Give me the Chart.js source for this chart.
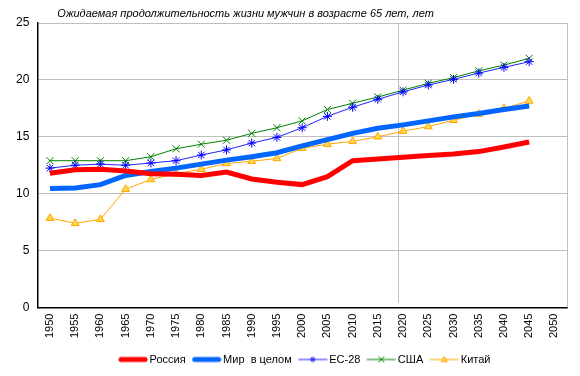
<!DOCTYPE html>
<html><head><meta charset="utf-8">
<script src="https://cdn.jsdelivr.net/npm/chart.js@4/dist/chart.umd.min.js"></script>
<style>html,body{margin:0;padding:0;background:#fff}#c{display:block}</style>
</head><body>
<canvas id="c" width="580" height="376"></canvas>
<script>
const titleText = "Ожидаемая продолжительность жизни мужчин в возрасте 65 лет, лет";
const years = ["1950","1955","1960","1965","1970","1975","1980","1985","1990","1995","2000","2005","2010","2015","2020","2025","2030","2035","2040","2045","2050"];
const russia = [11.8,12.1,12.15,12.0,11.75,11.7,11.6,11.9,11.3,11.0,10.8,11.5,12.9,13.05,13.2,13.35,13.5,13.7,14.1,14.55,null];
const world  = [10.45,10.5,10.8,11.6,11.95,12.25,12.6,12.95,13.25,13.6,14.2,14.75,15.3,15.75,16.05,16.4,16.75,17.05,17.4,17.7,null];
const eu28   = [12.25,12.5,12.6,12.5,12.7,12.9,13.4,13.85,14.45,14.95,15.8,16.8,17.6,18.3,18.95,19.55,20.05,20.6,21.1,21.6,null];
const usa    = [12.9,12.9,12.9,12.9,13.25,13.95,14.35,14.7,15.3,15.8,16.4,17.4,17.95,18.5,19.1,19.7,20.2,20.8,21.3,21.9,null];
const china  = [7.85,7.4,7.75,10.4,11.25,11.75,12.15,12.65,12.85,13.1,14.0,14.35,14.6,15.0,15.5,15.9,16.45,17.0,17.5,18.15,null];
const yTicksMax = 25, yStep = 5;
const markerYearIndex = 13.8; // vertical reference line (~2019)

function legendImg(color, width, style, fill) {
  const c = document.createElement('canvas');
  c.width = 30; c.height = 12;
  const g = c.getContext('2d');
  if (!color) return c;
  g.strokeStyle = color; g.lineWidth = width; g.lineCap = width > 2 ? 'round' : 'butt';
  g.beginPath(); g.moveTo(width > 2 ? 3 : 0.5, 6); g.lineTo(width > 2 ? 27 : 29.5, 6); g.stroke();
  if (style) {
    g.lineWidth = 1;
    const x = 15, y = 6, r = 3;
    g.beginPath();
    if (style === 'star') {
      g.moveTo(x - r, y); g.lineTo(x + r, y); g.moveTo(x, y - r); g.lineTo(x, y + r);
      g.moveTo(x - r*0.7, y - r*0.7); g.lineTo(x + r*0.7, y + r*0.7);
      g.moveTo(x - r*0.7, y + r*0.7); g.lineTo(x + r*0.7, y - r*0.7);
      g.stroke();
    } else if (style === 'x') {
      g.moveTo(x - r, y - r); g.lineTo(x + r, y + r); g.moveTo(x - r, y + r); g.lineTo(x + r, y - r);
      g.stroke();
    } else if (style === 'tri') {
      g.moveTo(x, y - r); g.lineTo(x + r, y + r*0.7); g.lineTo(x - r, y + r*0.7); g.closePath();
      g.fillStyle = fill; g.fill(); g.stroke();
    }
  }
  return c;
}

const extras = {
  id: 'extras',
  beforeDatasetsDraw(chart) {
    const {ctx, chartArea: a, scales: {x}} = chart;
    ctx.save();
    ctx.strokeStyle = '#BFBFBF'; ctx.lineWidth = 1;
    ctx.beginPath(); ctx.moveTo(Math.round(a.right) + 0.5, a.top); ctx.lineTo(Math.round(a.right) + 0.5, a.bottom); ctx.stroke();
    const i0 = Math.floor(markerYearIndex);
    const p0 = x.getPixelForValue(i0), p1 = x.getPixelForValue(i0 + 1);
    const vx = Math.round(p0 + (p1 - p0) * (markerYearIndex - i0)) + 0.5;
    ctx.beginPath(); ctx.moveTo(vx, a.top); ctx.lineTo(vx, a.bottom - 5); ctx.stroke();
    ctx.restore();
  },
  afterDraw(chart) {
    const {ctx, chartArea: a} = chart;
    ctx.save();
    ctx.font = 'italic 11px "Liberation Sans", Arial, sans-serif';
    ctx.fillStyle = '#000'; ctx.textBaseline = 'middle'; ctx.textAlign = 'left';
    ctx.fillText(titleText, a.left + 20, 14);
    ctx.restore();
  }
};

new Chart(document.getElementById('c'), {
  type: 'line',
  data: {
    labels: years,
    datasets: [
      {label: 'Россия', data: russia, borderColor: '#FF0000', backgroundColor: '#FF0000', borderWidth: 5, pointRadius: 0, tension: 0},
      {label: 'Мир  в целом', data: world, borderColor: '#0066FF', backgroundColor: '#0066FF', borderWidth: 5, pointRadius: 0, tension: 0},
      {label: 'ЕС-28', data: eu28, borderColor: '#2222FF', backgroundColor: '#0000FF', borderWidth: 1, pointRadius: 4.5, pointBorderColor: '#0000FF', pointBorderWidth: 1, pointStyle: 'star', tension: 0},
      {label: 'США', data: usa, borderColor: '#008000', backgroundColor: '#008000', borderWidth: 1, pointRadius: 5, pointBorderColor: '#008000', pointBorderWidth: 1, pointStyle: 'crossRot', tension: 0},
      {label: 'Китай', data: china, borderColor: '#FFA500', backgroundColor: '#FFD84D', borderWidth: 1, pointRadius: 4.5, pointBorderColor: '#FFA500', pointBackgroundColor: '#FFD84D', pointBorderWidth: 1, pointStyle: 'triangle', tension: 0}
    ]
  },
  options: {
    responsive: false, animation: false,
    layout: {padding: {left: 8, right: 13, top: 23, bottom: 1}},
    plugins: {
      title: {display: false},
      tooltip: {enabled: false},
      legend: {
        position: 'bottom',
        labels: {
          color: '#000',
          font: {family: '"Liberation Sans", Arial, sans-serif', size: 11},
          usePointStyle: true, pointStyleWidth: 22, boxHeight: 10, padding: 10,
          generateLabels(chart) {
            const imgs = [legendImg('#FF0000', 5), legendImg('#0066FF', 5), legendImg('#2222FF', 1, 'star'), legendImg('#008000', 1, 'x'), legendImg('#FFA500', 1, 'tri', '#FFD84D')];
            const items = chart.data.datasets.map((d, i) => ({text: d.label, pointStyle: imgs[i], fillStyle: 'transparent', strokeStyle: 'transparent', lineWidth: 0, datasetIndex: i, fontColor: '#000'}));
            items.unshift({text: '', pointStyle: legendImg(null), fillStyle: 'transparent', strokeStyle: 'transparent', lineWidth: 0, fontColor: '#000'});
            return items;
          }
        }
      }
    },
    scales: {
      x: {
        offset: true,
        grid: {display: false, drawTicks: false},
        border: {color: '#000', width: 1.5},
        ticks: {autoSkip: false, minRotation: 90, maxRotation: 90, color: '#000', padding: 6, font: {family: '"Liberation Sans", Arial, sans-serif', size: 11}}
      },
      y: {
        min: 0, max: yTicksMax,
        grid: {color: '#BFBFBF', drawTicks: false},
        border: {color: '#000', width: 1.5},
        ticks: {stepSize: yStep, color: '#000', padding: 8, font: {family: '"Liberation Sans", Arial, sans-serif', size: 12}}
      }
    }
  },
  plugins: [extras]
});
</script>
</body></html>
